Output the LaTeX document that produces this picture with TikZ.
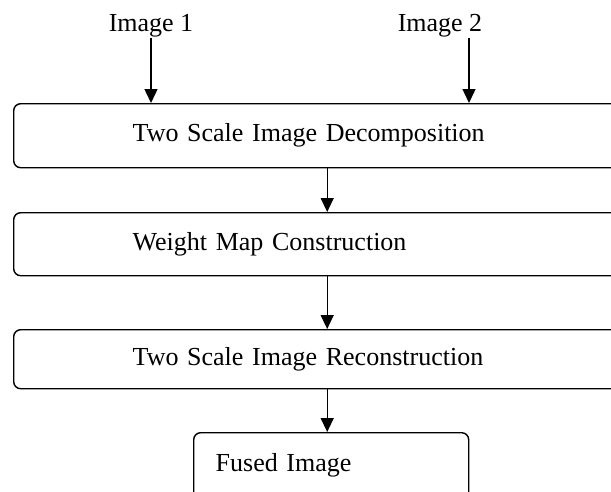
\documentclass[tikz,border=0pt]{standalone}
\usepackage{fontspec}
\setmainfont{Liberation Serif}
\usetikzlibrary{arrows.meta}

\begin{document}
\begin{tikzpicture}[x=1pt,y=-1pt]
\useasboundingbox (0,0) rectangle (611,491);
\clip (0,0) rectangle (611,491);
\begin{scope}[every node/.style={inner sep=0pt,font=\fontsize{26}{30}\selectfont}]
    \node (img1) at (151,26) {Image 1};
    \node (img2) at (440,26) {Image 2};
\end{scope}
\begin{scope}[every node/.style={draw,line width=1.4pt,rounded corners=7pt,
              anchor=north west,align=left,inner ysep=0pt,
              font=\fontsize{26}{30}\selectfont}]
    \node[inner xsep=119pt,text width=389pt,minimum height=64pt] (dec) at (13,103) {Two Scale Image Decomposition};
    \node[inner xsep=119pt,text width=389pt,minimum height=63pt] (wmc) at (13,212) {Weight Map Construction};
    \node[inner xsep=119pt,text width=389pt,minimum height=59pt] (rec) at (13,329) {Two Scale Image Reconstruction};
    \node[inner xsep=22pt,text width=231pt,minimum height=80pt,text depth=20pt] (fus) at (193,432) {Fused Image};
\end{scope}
\begin{scope}[>={Triangle[length=14pt,width=13pt]},
              every edge/.style={draw=black,line width=1.4pt}]
    \path [->] (img1.south) edge (img1.south |- dec.north);
    \path [->] ([xshift=29pt]img2.south) edge ([xshift=29pt]img2.south |- dec.north);
    \path [->] (dec.south) edge (wmc.north);
    \path [->] (wmc.south) edge (rec.north);
    \path [->] (rec.south) edge (rec.south |- fus.north);
\end{scope}
\end{tikzpicture}
\end{document}
